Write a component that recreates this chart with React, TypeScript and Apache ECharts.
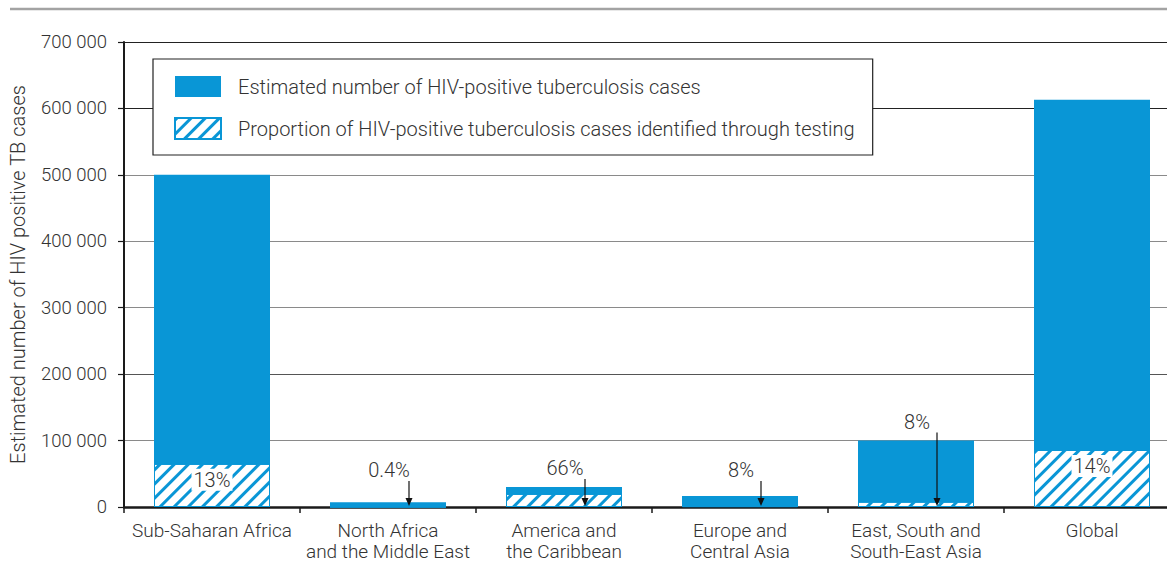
import React, { useEffect, useRef } from "react";
import * as echarts from "echarts";

const categories = [
  "Sub-Saharan Africa",
  "North Africa\nand the Middle East",
  "America and\nthe Caribbean",
  "Europe and\nCentral Asia",
  "East, South and\nSouth-East Asia",
  "Global",
];
const estimatedCases = [500000, 7000, 30000, 16500, 100000, 613000];
const identifiedCases = [65000, 28, 19800, 1300, 8000, 85800];
const proportionLabels = ["13%", "0.4%", "66%", "8%", "8%", "14%"];
const labelInside = [true, false, false, false, false, true];
const yTickValues = [0, 100000, 200000, 300000, 400000, 500000, 600000, 700000];

const SERIES_TOTAL = "Estimated number of HIV-positive tuberculosis cases";
const SERIES_TESTED = "Proportion of HIV-positive tuberculosis cases identified through testing";

const BLUE = "#0996d6";
const TEXT = "#333333";
const FONT = "Roboto, 'Liberation Sans', Arial, sans-serif";

function fmt(v: number) {
  return String(v).replace(/\B(?=(\d{3})+(?!\d))/g, " ");
}

export default function App() {
  const ref = useRef<HTMLDivElement>(null);
  useEffect(() => {
    if (!ref.current) return;
    const chart = echarts.init(ref.current, undefined, { renderer: "svg" });
    const annotationData = categories
      .map((_, i) => [i, estimatedCases[i], i])
      .filter((d) => !labelInside[d[2]]);
    chart.setOption({
      animation: false,
      textStyle: { fontFamily: FONT, fontWeight: 300 },
      graphic: [
        {
          type: "line",
          shape: { x1: 10, y1: 9, x2: 1167, y2: 9 },
          style: { stroke: "#a3a3a3", lineWidth: 2.5 },
        },
      ],
      grid: {
        left: 124,
        top: 42,
        width: 1056,
        bottom: 71,
        containLabel: false,
        outerBoundsMode: "none",
      },
      legend: {
        data: [SERIES_TOTAL, SERIES_TESTED],
        orient: "vertical",
        left: 153,
        top: 59,
        padding: [17, 18, 15, 21],
        itemGap: 20,
        itemWidth: 46,
        itemHeight: 21,
        icon: "rect",
        backgroundColor: "#ffffff",
        borderColor: "#222222",
        borderWidth: 1.2,
        borderRadius: 0,
        selectedMode: false,
        textStyle: {
          color: TEXT,
          fontSize: 20,
          fontFamily: FONT,
          fontWeight: 300,
          padding: [0, 0, 0, 12],
        },
      },
      xAxis: {
        type: "category",
        data: categories,
        axisLine: { lineStyle: { color: "#1a1a1a", width: 2.5 } },
        axisTick: { show: true, length: 6, lineStyle: { color: "#1a1a1a", width: 1.5 } },
        axisLabel: {
          color: TEXT,
          fontSize: 19,
          lineHeight: 21,
          margin: 13,
          fontFamily: FONT,
          fontWeight: 300,
          interval: 0,
          hideOverlap: false,
        },
      },
      yAxis: {
        type: "value",
        min: 0,
        max: 700000,
        interval: 100000,
        name: "Estimated number of HIV positive TB cases",
        nameLocation: "middle",
        nameGap: 96,
        nameTextStyle: { color: TEXT, fontSize: 20, fontFamily: FONT, fontWeight: 300 },
        axisLine: { show: true, lineStyle: { color: "#1a1a1a", width: 2 } },
        axisTick: { show: true, length: 6, lineStyle: { color: "#1a1a1a", width: 1.2 } },
        axisLabel: {
          color: TEXT,
          fontSize: 18.5,
          margin: 17,
          fontFamily: FONT,
          fontWeight: 300,
          formatter: (v: number) => (yTickValues.includes(v) ? fmt(v) : ""),
        },
        splitLine: {
          show: true,
          lineStyle: {
            color: ["#222", "#8a8a8a", "#555", "#8a8a8a", "#8a8a8a", "#8a8a8a", "#222", "#222"],
            width: 1.2,
          },
        },
      },
      series: [
        {
          name: SERIES_TOTAL,
          type: "bar",
          data: estimatedCases,
          barWidth: 116,
          barGap: "-100%",
          itemStyle: { color: BLUE },
          z: 2,
        },
        {
          name: SERIES_TESTED,
          type: "bar",
          data: identifiedCases.map((v, i) =>
            labelInside[i]
              ? { value: v, label: { show: true, formatter: proportionLabels[i] } }
              : v
          ),
          barWidth: 116,
          barGap: "-100%",
          itemStyle: {
            color: "#ffffff",
            borderColor: BLUE,
            borderWidth: 1,
            decal: {
              symbol: "rect",
              color: BLUE,
              backgroundColor: "#ffffff",
              dashArrayX: [1, 0],
              dashArrayY: [2.5, 6.5],
              rotation: -Math.PI / 4,
            },
          },
          label: {
            show: false,
            position: "insideTop",
            distance: 5,
            backgroundColor: "#ffffff",
            padding: [1, 2],
            color: TEXT,
            fontSize: 20,
            fontFamily: FONT,
            fontWeight: 300,
          },
          z: 3,
        },
        {
          name: "annotations",
          type: "custom",
          data: annotationData,
          encode: { x: 0, y: 1 },
          z: 5,
          silent: true,
          renderItem: (params: any, api: any) => {
            const idx = api.value(0);
            const total = api.value(1);
            const di = api.value(2);
            const top = api.coord([idx, total]);
            const base = api.coord([idx, 0]);
            const cx = top[0];
            const axisY = base[1];
            const arrowTop = Math.min(axisY - 26, top[1] - 8);
            const labelY = arrowTop - 11;
            const ax = cx + 21;
            return {
              type: "group",
              children: [
                {
                  type: "text",
                  x: cx + 1,
                  y: labelY,
                  style: {
                    text: proportionLabels[di],
                    fill: TEXT,
                    fontSize: 20,
                    fontFamily: FONT,
                    fontWeight: 300,
                    align: "center",
                    textAlign: "center",
                    verticalAlign: "middle",
                    textVerticalAlign: "middle",
                  },
                },
                {
                  type: "line",
                  shape: { x1: ax, y1: arrowTop, x2: ax, y2: axisY - 6 },
                  style: { stroke: "#111", lineWidth: 1.2 },
                },
                {
                  type: "polygon",
                  shape: {
                    points: [
                      [ax - 3.5, axisY - 9],
                      [ax + 3.5, axisY - 9],
                      [ax, axisY - 1],
                    ],
                  },
                  style: { fill: "#111" },
                },
              ],
            };
          },
        },
      ],
    });
    return () => chart.dispose();
  }, []);
  return (
    <div
      ref={ref}
      style={{ position: "absolute", left: 0, top: 0, width: 1167, height: 578 }}
    />
  );
}
